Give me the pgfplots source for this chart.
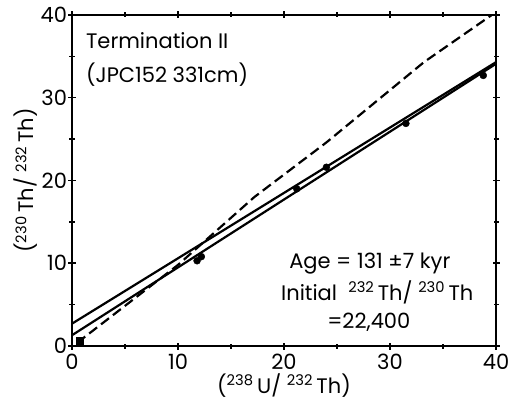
\documentclass[border=0pt]{standalone}
\usepackage{fontspec}
\setmainfont{Poppins}
\usepackage{pgfplots}
\pgfplotsset{compat=1.18}
\begin{document}
\begin{tikzpicture}[font=\fontsize{21bp}{25bp}\selectfont]
\path[use as bounding box] (-72bp,-55bp) rectangle (436bp,346bp);
\begin{axis}[
  at={(0,0)}, anchor=south west,
  scale only axis, width=424bp, height=331bp,
  xmin=0, xmax=40, ymin=0, ymax=40,
  xtick={0,10,20,30,40}, ytick={0,10,20,30,40},
  minor x tick num=1, minor y tick num=1,
  tick align=center,
  major tick length=7bp, minor tick length=5bp,
  every tick/.style={line width=1.5bp, black},
  axis line style={line width=2.5bp},
  /pgf/number format/assume math mode=true,
  xticklabel style={yshift=-1bp},
  yticklabel style={xshift=2bp},
  xlabel={(\textsuperscript{238}\,U/ \textsuperscript{232}\,Th)},
  ylabel={(\textsuperscript{230}\,Th/ \textsuperscript{232}\,Th)},
  xlabel style={yshift=3bp},
  ylabel style={yshift=-4bp},
  clip=false,
]
% dashed reference line
\addplot[black, line width=2.2bp, dash pattern=on 10bp off 5bp] coordinates {
(0.5,0.4) (10,9.8) (17.2,18.0) (24,24.6) (33.2,34.3) (39.6,40.0)};
% isochron lines
\addplot[black, line width=2.2bp] coordinates {(0,2.7) (40,34.3)};
\addplot[black, line width=2.2bp] coordinates {(0,1.3) (40,34.1)};
% data points
\addplot[only marks, mark=*, mark size=3.5bp, black] coordinates {
(11.8,10.3) (12.2,10.8) (21.2,19.0) (24.0,21.6) (31.5,26.9) (38.8,32.7)};
\addplot[only marks, mark=square*, mark size=3.5bp, black] coordinates {(0.7,0.6)};
\node[anchor=base west] at (axis cs:1.0,35.9) {Termination II};
\node[anchor=base west] at (axis cs:1.0,31.9) {(JPC152 331cm)};
\node[anchor=base] at (axis cs:28.1,9.4) {Age = 131 ±7 kyr};
\node[anchor=base] at (axis cs:28.8,5.5) {Initial \ \textsuperscript{232}\,Th/ \textsuperscript{230}\,Th};
\node[anchor=base] at (axis cs:28.0,2.1) {=22,400};
\end{axis}
\end{tikzpicture}
\end{document}
